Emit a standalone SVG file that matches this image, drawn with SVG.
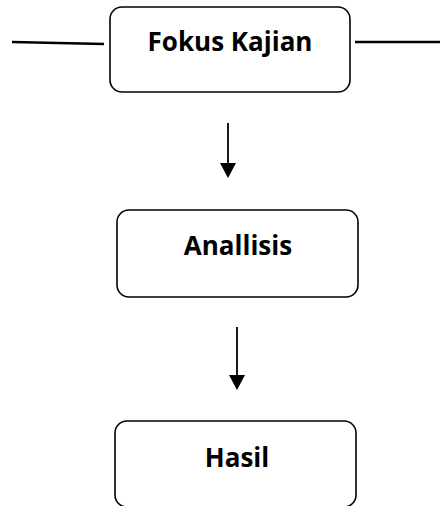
<svg xmlns="http://www.w3.org/2000/svg" width="440" height="506" viewBox="0 0 440 506">
<style>
.box{fill:#fff;stroke:#000;stroke-width:1.6}
.lbl{font-family:"Open Sans","Liberation Sans",sans-serif;font-weight:bold;font-size:26px;fill:#000;text-anchor:middle}
.ln{stroke:#000;stroke-width:2.6;fill:none}
.ar{stroke:#000;stroke-width:1.8;fill:none}
.hd{fill:#000}
</style>
<g id="connectors">
<line class="ln" x1="12" y1="42" x2="104" y2="44"/>
<line class="ln" x1="355" y1="42" x2="440" y2="42"/>
<path class="ar" d="M228,123 V164"/>
<path class="hd" d="M220,163 L236,163 L228,178 Z"/>
<path class="ar" d="M237,327 V376"/>
<path class="hd" d="M229,375 L245,375 L237,390 Z"/>
</g>
<g id="node-fokus">
<rect class="box" x="110" y="7" width="240" height="85" rx="12"/>
<text class="lbl" x="230" y="51">Fokus Kajian</text>
</g>
<g id="node-analisis">
<rect class="box" x="117" y="210" width="241" height="87" rx="12"/>
<text class="lbl" x="238" y="255">Anallisis</text>
</g>
<g id="node-hasil">
<rect class="box" x="115" y="421" width="241" height="86" rx="12"/>
<text class="lbl" x="237" y="467">Hasil</text>
</g>
</svg>
